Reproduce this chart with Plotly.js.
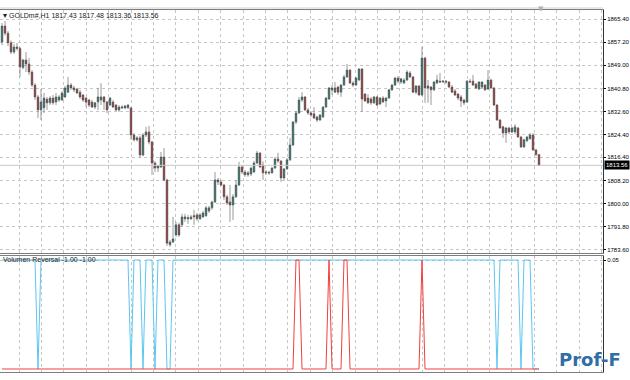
<!DOCTYPE html>
<html>
<head>
<meta charset="utf-8">
<script src="https://cdn.plot.ly/plotly-3.0.1.min.js"></script>
<style>html,body{margin:0;padding:0;background:#fff;}#chart{width:630px;height:380px;}</style>
</head>
<body>
<div id="chart"></div>
<script>
// ---- data (GOLDm#, H1) ----
const symbol = 'GOLDm#,H1';
const indicatorName = 'Volumen Reversal';
const priceTicks = [1865.40, 1857.20, 1849.00, 1840.80, 1832.60, 1824.40, 1816.40, 1808.20, 1800.00, 1791.80, 1783.60];
const indicatorTicks = [0.05];

const open = [
1857.3,1862.9,1860.4,1857.0,1853.7,1855.5,1855.0,1848.2,1850.9,1849.5,
1846.6,1842.0,1837.8,1833.2,1834.0,1837.0,1835.7,1837.4,1836.0,1836.7,
1836.7,1837.8,1839.5,1842.0,1841.0,1840.6,1839.5,1838.5,1837.4,1836.7,
1836.0,1834.2,1836.0,1836.7,1837.8,1836.0,1834.9,1836.0,1834.9,1833.2,
1833.9,1833.9,1834.0,1833.9,1824.3,1822.6,1823.3,1817.2,1824.3,1825.4,
1821.8,1814.4,1812.6,1813.0,1816.5,1808.4,1785.4,1786.4,1788.9,1792.5,
1792.5,1795.3,1794.6,1794.6,1795.3,1796.0,1794.6,1795.3,1795.7,1797.4,
1798.5,1800.6,1808.4,1807.7,1806.6,1802.4,1800.6,1799.5,1802.4,1806.6,
1813.0,1811.2,1810.2,1810.5,1811.2,1814.4,1817.9,1813.7,1810.9,1811.2,
1810.9,1812.6,1815.8,1815.1,1809.1,1812.3,1815.5,1820.8,1828.9,1832.1,
1836.7,1837.8,1833.2,1832.1,1831.8,1830.7,1829.6,1830.7,1834.2,1837.1,
1841.0,1839.5,1841.3,1839.5,1842.0,1844.9,1847.3,1842.7,1842.0,1843.8,
1847.7,1838.8,1837.4,1837.1,1835.7,1837.8,1835.3,1837.4,1836.4,1837.4,
1840.3,1842.0,1844.5,1843.1,1842.7,1843.8,1846.3,1844.9,1839.5,1841.7,
1838.5,1851.6,1841.0,1841.3,1840.3,1842.7,1843.4,1843.1,1843.4,1843.1,
1841.3,1839.9,1838.8,1837.8,1836.7,1836.0,1843.4,1843.4,1842.4,1840.6,
1841.3,1842.0,1840.6,1843.8,1841.0,1834.9,1829.6,1827.2,1825.0,1826.8,
1825.4,1825.4,1826.8,1823.6,1820.1,1822.3,1823.0,1824.3,1819.0,1817.43];
const high = [
1864.0,1864.7,1861.2,1857.8,1856.5,1856.9,1855.5,1851.3,1853.7,1851.6,
1847.3,1842.7,1838.5,1840.6,1839.2,1837.8,1838.1,1838.5,1839.2,1838.5,
1839.9,1841.7,1844.9,1842.7,1841.7,1841.0,1840.3,1838.8,1837.8,1837.1,
1836.7,1836.0,1841.0,1842.7,1838.1,1836.4,1837.8,1836.7,1835.3,1834.9,
1834.9,1835.0,1835.3,1834.2,1825.0,1823.9,1824.0,1825.0,1827.2,1827.6,
1822.3,1815.0,1813.7,1818.3,1819.7,1808.8,1787.1,1795.3,1793.5,1793.2,
1796.4,1796.4,1796.0,1796.0,1797.8,1796.7,1796.7,1797.4,1799.2,1799.2,
1801.0,1811.2,1809.1,1808.4,1807.0,1803.1,1806.6,1803.4,1808.4,1814.8,
1813.7,1811.9,1811.6,1813.0,1815.2,1818.7,1818.3,1815.0,1811.9,1811.6,
1813.0,1816.5,1818.0,1815.5,1812.6,1816.2,1823.3,1829.3,1832.8,1837.8,
1839.5,1838.1,1833.9,1832.8,1834.2,1831.1,1831.8,1834.6,1837.8,1841.3,
1842.0,1843.1,1841.7,1842.4,1845.6,1849.5,1847.7,1843.4,1844.9,1848.0,
1848.0,1839.2,1838.8,1837.8,1838.1,1838.1,1837.8,1838.1,1837.8,1840.6,
1842.4,1844.9,1845.2,1844.5,1844.5,1847.3,1847.0,1845.2,1842.0,1842.0,
1855.5,1852.0,1843.8,1841.7,1843.4,1845.6,1846.3,1843.8,1843.8,1843.4,
1842.0,1840.6,1839.2,1838.5,1837.1,1843.8,1844.2,1845.6,1842.7,1843.4,
1843.4,1842.4,1847.3,1844.2,1841.3,1835.3,1830.0,1827.6,1827.2,1827.2,
1827.2,1828.2,1827.2,1824.0,1823.0,1824.0,1825.0,1825.0,1819.4,1817.48];
const low = [
1856.2,1859.5,1855.8,1853.0,1853.0,1854.2,1844.9,1847.6,1846.6,1845.6,
1841.3,1836.7,1830.3,1829.6,1832.1,1833.2,1835.0,1835.0,1834.9,1836.0,
1836.4,1837.4,1839.2,1840.3,1839.5,1838.8,1837.1,1836.0,1834.2,1834.2,
1833.9,1833.5,1833.2,1834.9,1833.2,1832.1,1834.6,1833.9,1832.8,1832.5,
1833.5,1833.5,1833.5,1822.6,1822.0,1822.0,1816.2,1816.8,1823.6,1821.0,
1810.2,1811.2,1811.2,1812.6,1808.0,1785.0,1784.7,1786.0,1788.2,1788.2,
1791.8,1793.5,1792.8,1794.2,1792.5,1793.9,1794.2,1794.9,1795.3,1796.7,
1797.8,1800.2,1806.6,1806.2,1801.3,1799.5,1793.5,1794.2,1802.0,1806.2,
1810.5,1809.5,1809.5,1809.8,1810.9,1814.0,1812.6,1808.4,1810.2,1810.2,
1810.5,1812.3,1814.4,1807.7,1808.4,1812.0,1815.1,1820.4,1828.2,1831.8,
1836.0,1832.8,1831.4,1830.7,1830.0,1828.9,1829.3,1830.3,1833.9,1836.7,
1838.5,1839.2,1838.5,1837.8,1841.7,1844.5,1842.4,1841.3,1841.7,1843.4,
1832.5,1836.0,1835.3,1835.0,1835.3,1834.6,1834.9,1835.7,1834.2,1837.1,
1839.9,1841.7,1842.7,1842.4,1842.4,1843.4,1844.5,1839.2,1838.8,1838.1,
1838.1,1835.7,1835.7,1834.9,1839.9,1842.4,1842.7,1842.7,1842.4,1840.9,
1839.2,1838.1,1836.7,1834.2,1834.9,1835.7,1842.7,1841.7,1840.6,1840.3,
1840.9,1839.9,1840.3,1840.6,1834.6,1829.3,1826.5,1823.3,1821.5,1824.6,
1825.0,1824.6,1823.3,1819.7,1819.7,1821.8,1822.6,1818.7,1816.8,1813.36];
const close = [
1862.9,1860.4,1857.0,1853.7,1855.5,1855.0,1848.4,1850.9,1849.5,1846.6,
1842.0,1837.8,1833.2,1836.0,1837.4,1835.7,1837.4,1835.7,1837.8,1837.8,
1839.2,1841.0,1842.0,1841.0,1840.3,1839.2,1837.8,1836.7,1836.0,1834.9,
1834.2,1835.7,1837.8,1837.8,1836.0,1833.2,1837.4,1834.2,1833.2,1834.2,
1834.2,1834.6,1834.9,1824.3,1822.6,1823.3,1817.2,1824.3,1825.4,1821.8,
1814.4,1812.6,1813.4,1816.5,1808.4,1786.0,1786.4,1787.5,1792.5,1788.9,
1795.3,1794.6,1795.0,1795.3,1795.7,1794.6,1796.0,1796.7,1798.5,1798.5,
1800.6,1808.4,1807.7,1806.6,1802.4,1800.2,1799.5,1802.4,1806.6,1813.0,
1811.2,1810.2,1810.9,1812.6,1814.4,1817.9,1813.0,1810.9,1811.2,1810.9,
1812.6,1815.8,1815.1,1809.1,1812.3,1815.5,1820.8,1828.9,1832.1,1836.7,
1837.8,1833.2,1832.1,1831.4,1830.3,1829.6,1831.4,1834.2,1837.4,1841.0,
1840.3,1841.0,1839.5,1842.0,1844.9,1847.3,1842.7,1842.0,1844.5,1847.7,
1837.1,1836.4,1835.7,1835.7,1837.8,1834.9,1837.4,1836.0,1837.4,1840.3,
1842.0,1844.5,1843.4,1844.2,1843.8,1846.6,1844.9,1839.5,1841.7,1838.5,
1851.6,1841.0,1841.7,1840.3,1843.1,1843.8,1843.1,1843.4,1843.1,1841.3,
1839.5,1838.5,1837.4,1836.4,1835.7,1843.4,1843.1,1842.0,1841.0,1843.1,
1843.1,1840.3,1843.8,1841.0,1834.9,1829.6,1826.8,1825.0,1826.8,1825.4,
1826.8,1827.2,1823.6,1820.1,1822.6,1823.6,1824.3,1819.0,1817.4,1813.56];

// Volumen Reversal buffers (cyan, red)
const revBlue = [
0.05,0.05,0.05,0.05,0.05,0.05,0.05,0.05,0.05,0.05,
0.05,0.05,-1,0.05,0.05,0.05,0.05,0.05,0.05,0.05,
0.05,0.05,0.05,0.05,0.05,0.05,0.05,0.05,0.05,0.05,
0.05,0.05,0.05,0.05,0.05,0.05,0.05,0.05,0.05,0.05,
0.05,0.05,0.05,-1,0.05,0.05,0.05,-1,0.05,0.05,
0.05,-1,0.05,0.05,0.05,-1,-1,0.05,0.05,0.05,
0.05,0.05,0.05,0.05,0.05,0.05,0.05,0.05,0.05,0.05,
0.05,0.05,0.05,0.05,0.05,0.05,0.05,0.05,0.05,0.05,
0.05,0.05,0.05,0.05,0.05,0.05,0.05,0.05,0.05,0.05,
0.05,0.05,0.05,0.05,0.05,0.05,0.05,0.05,0.05,0.05,
0.05,0.05,0.05,0.05,0.05,0.05,0.05,0.05,0.05,0.05,
0.05,0.05,0.05,0.05,0.05,0.05,0.05,0.05,0.05,0.05,
0.05,0.05,0.05,0.05,0.05,0.05,0.05,0.05,0.05,0.05,
0.05,0.05,0.05,0.05,0.05,0.05,0.05,0.05,0.05,0.05,
0.05,0.05,0.05,0.05,0.05,0.05,0.05,0.05,0.05,0.05,
0.05,0.05,0.05,0.05,0.05,0.05,0.05,0.05,0.05,0.05,
0.05,0.05,0.05,0.05,0.05,-1,0.05,0.05,0.05,0.05,
0.05,0.05,0.05,-1,0.05,0.05,0.05,-1,-1,-1];
const revRed = [
-1,-1,-1,-1,-1,-1,-1,-1,-1,-1,
-1,-1,-1,-1,-1,-1,-1,-1,-1,-1,
-1,-1,-1,-1,-1,-1,-1,-1,-1,-1,
-1,-1,-1,-1,-1,-1,-1,-1,-1,-1,
-1,-1,-1,-1,-1,-1,-1,-1,-1,-1,
-1,-1,-1,-1,-1,-1,-1,-1,-1,-1,
-1,-1,-1,-1,-1,-1,-1,-1,-1,-1,
-1,-1,-1,-1,-1,-1,-1,-1,-1,-1,
-1,-1,-1,-1,-1,-1,-1,-1,-1,-1,
-1,-1,-1,-1,-1,-1,-1,-1,0.05,0.05,
-1,-1,-1,-1,-1,-1,-1,-1,-1,0.05,
-1,-1,-1,-1,0.05,0.05,-1,-1,-1,-1,
-1,-1,-1,-1,-1,-1,-1,-1,-1,-1,
-1,-1,-1,-1,-1,-1,-1,-1,-1,-1,
0.05,-1,-1,-1,-1,-1,-1,-1,-1,-1,
-1,-1,-1,-1,-1,-1,-1,-1,-1,-1,
-1,-1,-1,-1,-1,-1,-1,-1,-1,-1,
-1,-1,-1,-1,-1,-1,-1,-1,-1,-1];

// ---- chart ----
const bars = open.map((_, i) => i);
const last = open.length - 1;
const fmt = v => v.toFixed(2);
const FONT = 'Liberation Sans, Arial, sans-serif';
const GRID = '#c6c6c6';
const XRANGE = [-0.667, 200.333];

const traces = [
  {
    type: 'candlestick', x: bars, open: open, high: high, low: low, close: close,
    xaxis: 'x', yaxis: 'y', whiskerwidth: 0, hoverinfo: 'skip',
    increasing: {line: {color: '#555555', width: 0.6}, fillcolor: '#1f6e66'},
    decreasing: {line: {color: '#555555', width: 0.6}, fillcolor: '#922a2a'}
  },
  {
    type: 'scatter', mode: 'lines', x: bars, y: revBlue, xaxis: 'x2', yaxis: 'y2',
    line: {color: '#5cc6f2', width: 1}, hoverinfo: 'skip'
  },
  {
    type: 'scatter', mode: 'lines', x: bars, y: revRed, xaxis: 'x2', yaxis: 'y2',
    line: {color: '#f04040', width: 1}, hoverinfo: 'skip'
  }
];

const xbase = {
  range: XRANGE, showticklabels: false, ticks: '', tick0: 5.667, dtick: 7.4667,
  showgrid: true, gridcolor: GRID, griddash: '3px,3px', gridwidth: 1,
  zeroline: false, showline: true, mirror: true, linecolor: '#7d7d7d', linewidth: 1,
  fixedrange: true
};

const layout = {
  width: 630, height: 380,
  margin: {l: 0, r: 27, t: 10, b: 8},
  paper_bgcolor: '#ffffff', plot_bgcolor: '#ffffff',
  showlegend: false, boxgap: 0.2,
  font: {family: FONT, size: 6, color: '#000'},
  xaxis: Object.assign({}, xbase, {anchor: 'y', domain: [0, 1], rangeslider: {visible: false}}),
  yaxis: {
    domain: [0.3287, 1], range: [1782.5, 1868.6], side: 'right', anchor: 'x',
    tickvals: priceTicks, tickformat: '.2f', ticks: 'outside', ticklen: 2, tickcolor: '#000',
    tickfont: {family: FONT, size: 6, color: '#000'},
    showgrid: true, gridcolor: GRID, griddash: '3px,3px', zeroline: false,
    showline: true, linecolor: '#333', linewidth: 1, fixedrange: true
  },
  xaxis2: Object.assign({}, xbase, {anchor: 'y2', domain: [0, 1]}),
  yaxis2: {
    domain: [0, 0.3204], range: [-1.029, 0.0885], side: 'right', anchor: 'x2',
    tickvals: indicatorTicks, tickformat: '.2f', ticks: 'outside', ticklen: 2, tickcolor: '#000',
    tickfont: {family: FONT, size: 6, color: '#000'},
    showgrid: true, gridcolor: GRID, griddash: '3px,3px', zeroline: false,
    showline: true, linecolor: '#333', linewidth: 1, fixedrange: true
  },
  shapes: [
    {type: 'line', xref: 'paper', yref: 'y', x0: 0, x1: 1, y0: close[last], y1: close[last],
     line: {color: '#c8c8c8', width: 1}},
    {type: 'line', xref: 'paper', yref: 'paper', x0: 0, x1: 1, y0: 1.0055, y1: 1.0055,
     line: {color: '#d0d0d0', width: 1}}
  ],
  annotations: [
    {xref: 'paper', yref: 'paper', x: 0.001, y: 0.986, xanchor: 'left', yanchor: 'middle',
     text: '▾', showarrow: false, font: {family: 'DejaVu Sans', size: 8, color: '#222'}},
    {xref: 'paper', yref: 'paper', x: 0.012, y: 0.986, xanchor: 'left', yanchor: 'middle',
     text: symbol + ' ' + [open[last], high[last], low[last], close[last]].map(fmt).join(' '),
     showarrow: false, font: {family: FONT, size: 7, color: '#222'}},
    {xref: 'paper', yref: 'paper', x: 0.001, y: 0.3095, xanchor: 'left', yanchor: 'middle',
     text: indicatorName + ' ' + fmt(revBlue[last]) + ' ' + fmt(revRed[last]),
     showarrow: false, font: {family: FONT, size: 7, color: '#222'}},
    {xref: 'paper', yref: 'y', x: 1.002, y: close[last], xanchor: 'left', yanchor: 'middle',
     text: fmt(close[last]), showarrow: false, bgcolor: '#000', borderpad: 1,
     font: {family: FONT, size: 6, color: '#fff'}},
    {xref: 'x', yref: 'paper', x: last + 0.7, y: 1.003, xanchor: 'center', yanchor: 'middle',
     text: '▼', showarrow: false, font: {family: 'DejaVu Sans', size: 7, color: '#b0b0b0'}},
    {xref: 'paper', yref: 'paper', x: 0.924, y: 0.035, xanchor: 'left', yanchor: 'middle',
     text: '<b>Prof-F</b>', showarrow: false, font: {family: 'DejaVu Sans', size: 18, color: '#2f6ea6'}}
  ]
};

Plotly.newPlot('chart', traces, layout, {staticPlot: true, displayModeBar: false});
</script>
</body>
</html>
